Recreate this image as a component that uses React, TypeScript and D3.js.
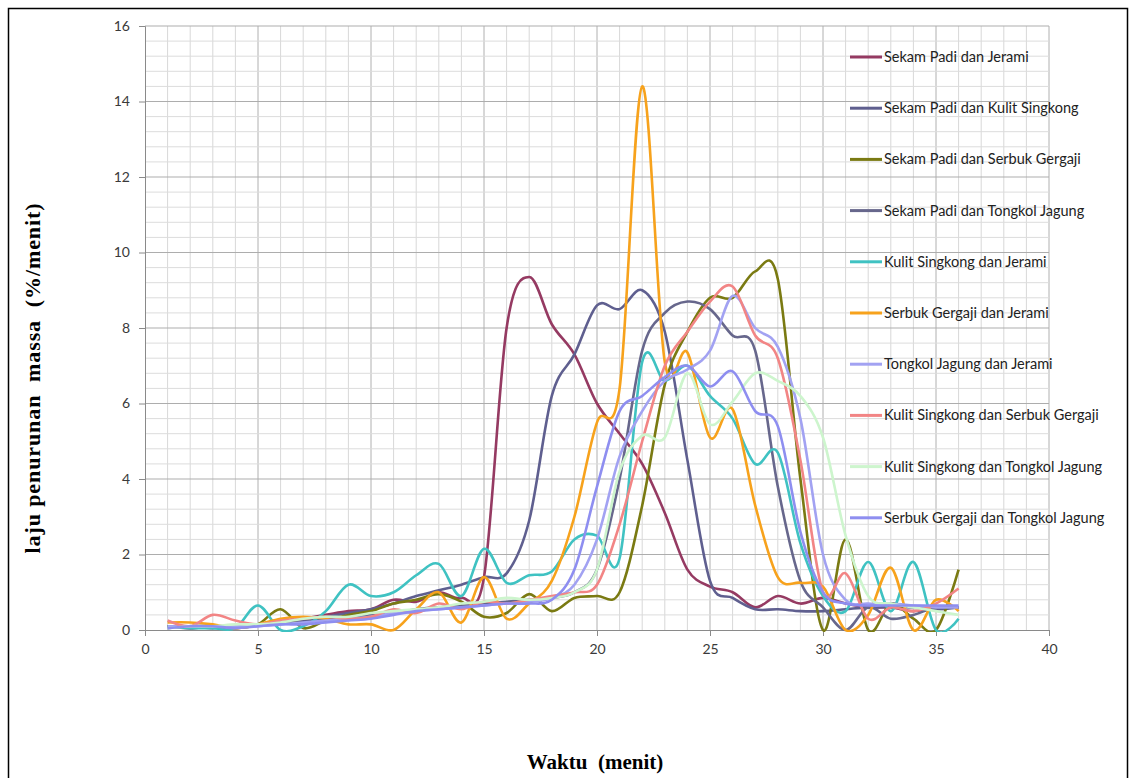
import React, { useEffect, useRef } from "react";
import * as d3 from "d3";

// waktu (menit)
const minutes = [1, 2, 3, 4, 5, 6, 7, 8, 9, 10, 11, 12, 13, 14, 15, 16, 17, 18, 19, 20, 21, 22, 23, 24, 25, 26, 27, 28, 29, 30, 31, 32, 33, 34, 35, 36];

const seriesNames = [
  "Sekam Padi dan Jerami",
  "Sekam Padi dan Kulit Singkong",
  "Sekam Padi dan Serbuk Gergaji",
  "Sekam Padi dan Tongkol Jagung",
  "Kulit Singkong dan Jerami",
  "Serbuk Gergaji dan Jerami",
  "Tongkol Jagung dan Jerami",
  "Kulit Singkong dan Serbuk Gergaji",
  "Kulit Singkong dan Tongkol Jagung",
  "Serbuk Gergaji dan Tongkol Jagung",
];

const seriesColors = ["#953a62", "#5f5f8f", "#7a7a12", "#67678c", "#3fc2c2", "#f7a21c", "#a2a2f2", "#f28585", "#cdf5cd", "#8e8ef0"];

const sekamJerami = [0.1, 0.05, 0.1, 0.1, 0.15, 0.2, 0.3, 0.4, 0.5, 0.55, 0.8, 0.75, 1.0, 0.85, 1.4, 8.0, 9.35, 8.1, 7.3, 6.0, 5.2, 4.4, 3.1, 1.6, 1.15, 1.0, 0.6, 0.9, 0.7, 0.85, 0.7, 0.6, 0.6, 0.5, 0.6, 0.6];
const sekamKulit = [0.05, 0.1, 0.05, 0.1, 0.15, 0.2, 0.25, 0.35, 0.45, 0.55, 0.7, 0.9, 1.05, 1.2, 1.4, 1.5, 2.9, 6.2, 7.3, 8.6, 8.5, 9.0, 7.9, 4.5, 1.3, 0.85, 0.55, 0.55, 0.5, 0.5, 0.55, 0.6, 0.6, 0.6, 0.55, 0.6];
const sekamSerbuk = [0.1, 0.1, 0.1, 0.05, 0.15, 0.55, 0.05, 0.25, 0.4, 0.5, 0.7, 0.8, 0.95, 0.75, 0.35, 0.45, 0.95, 0.5, 0.85, 0.9, 1.0, 3.3, 6.5, 7.9, 8.8, 8.8, 9.5, 9.3, 4.0, 0.0, 2.4, 0.0, 0.7, 0.3, 0.0, 1.6];
const sekamTongkol = [0.1, 0.05, 0.1, 0.05, 0.15, 0.2, 0.2, 0.3, 0.3, 0.4, 0.45, 0.55, 0.6, 0.65, 0.7, 0.75, 0.8, 0.85, 1.0, 1.6, 4.0, 7.4, 8.4, 8.7, 8.5, 7.8, 7.4, 3.8, 1.3, 0.6, 0.0, 0.6, 0.3, 0.4, 0.6, 0.6];
const kulitJerami = [0.1, 0.05, 0.05, 0.05, 0.65, 0.0, 0.1, 0.5, 1.2, 0.9, 1.0, 1.45, 1.75, 0.9, 2.15, 1.25, 1.45, 1.55, 2.4, 2.5, 1.9, 7.1, 6.6, 7.0, 6.2, 5.6, 4.4, 4.7, 2.3, 0.9, 0.5, 1.8, 0.5, 1.8, 0.0, 0.3];
const serbukJerami = [0.2, 0.2, 0.15, 0.05, 0.15, 0.3, 0.35, 0.3, 0.15, 0.15, 0.0, 0.55, 1.0, 0.2, 1.4, 0.3, 0.7, 1.3, 3.0, 5.5, 6.4, 14.4, 7.1, 7.35, 5.1, 5.85, 3.3, 1.4, 1.25, 1.15, 0.0, 0.4, 1.65, 0.0, 0.8, 0.5];
const tongkolJerami = [0.1, 0.1, 0.1, 0.1, 0.1, 0.15, 0.2, 0.25, 0.3, 0.35, 0.45, 0.5, 0.55, 0.6, 0.65, 0.7, 0.75, 0.85, 1.2, 2.4, 4.6, 5.8, 6.6, 6.9, 7.4, 8.85, 8.0, 7.5, 5.6, 2.0, 0.8, 0.7, 0.7, 0.65, 0.6, 0.6];
const kulitSerbuk = [0.25, 0.1, 0.4, 0.25, 0.15, 0.25, 0.3, 0.35, 0.3, 0.35, 0.55, 0.45, 0.7, 0.55, 0.75, 0.7, 0.8, 0.9, 1.0, 1.2, 2.8, 5.0, 7.0, 7.9, 8.7, 9.1, 7.8, 7.2, 4.5, 1.0, 1.5, 0.3, 0.6, 0.5, 0.7, 1.1];
const kulitTongkol = [0.05, 0.1, 0.1, 0.15, 0.15, 0.2, 0.3, 0.35, 0.35, 0.45, 0.5, 0.55, 0.6, 0.7, 0.75, 0.85, 0.8, 0.85, 1.0, 1.6, 4.2, 5.15, 5.1, 6.8, 5.45, 6.05, 6.8, 6.6, 6.2, 5.1, 2.5, 0.9, 0.7, 0.6, 0.5, 0.4];
const serbukTongkol = [0.05, 0.1, 0.1, 0.05, 0.1, 0.15, 0.15, 0.2, 0.25, 0.3, 0.4, 0.5, 0.55, 0.6, 0.65, 0.7, 0.7, 0.8, 1.6, 3.8, 5.8, 6.2, 6.7, 7.0, 6.45, 6.85, 5.8, 5.4, 2.6, 1.0, 0.7, 0.65, 0.65, 0.65, 0.65, 0.65];

const seriesValues = [sekamJerami, sekamKulit, sekamSerbuk, sekamTongkol, kulitJerami, serbukJerami, tongkolJerami, kulitSerbuk, kulitTongkol, serbukTongkol];

const xTicks = [0, 5, 10, 15, 20, 25, 30, 35, 40];
const yTicks = [0, 2, 4, 6, 8, 10, 12, 14, 16];

const W = 1129, H = 778;
const left = 145, right = 1049, top = 26, bottom = 630;
const tickFont = "Lato, 'Open Sans', sans-serif";

export default function App() {
  const ref = useRef<SVGSVGElement>(null);

  useEffect(() => {
    const svg = d3.select(ref.current);
    svg.selectAll("*").remove();

    const x = d3.scaleLinear().domain([0, 40]).range([left, right]);
    const y = d3.scaleLinear().domain([0, 16]).range([bottom, top]);

    svg.append("rect").attr("width", W).attr("height", H).attr("fill", "#fff");
    svg.append("rect")
      .attr("x", 8.5).attr("y", 8.5).attr("width", W - 10).attr("height", H + 20)
      .attr("fill", "none").attr("stroke", "#000").attr("stroke-width", 1.5);

    // minor grid
    const grid = svg.append("g");
    grid.selectAll(".vminor").data(d3.range(1, 41)).join("line")
      .attr("x1", d => x(d)).attr("x2", d => x(d))
      .attr("y1", top).attr("y2", bottom)
      .attr("stroke", d => d % 5 === 0 ? "#b0b0b0" : "#d8d8d8").attr("stroke-width", 1);
    grid.selectAll(".hminor").data(d3.range(1, 41).map(i => i * 0.4)).join("line")
      .attr("x1", left).attr("x2", right)
      .attr("y1", d => y(d)).attr("y2", d => y(d))
      .attr("stroke", d => Math.abs(d / 2 - Math.round(d / 2)) < 1e-6 ? "#adadad" : "#dcdcdc").attr("stroke-width", 1);

    // axes
    const gx = svg.append("g").attr("transform", `translate(0,${bottom})`)
      .call(d3.axisBottom(x).tickValues(xTicks).tickSize(6).tickPadding(8));
    const gy = svg.append("g").attr("transform", `translate(${left},0)`)
      .call(d3.axisLeft(y).tickValues(yTicks).tickSize(6).tickPadding(9));
    [gx, gy].forEach(g => {
      g.select(".domain").attr("stroke", "#8a8a8a");
      g.selectAll(".tick line").attr("stroke", "#8a8a8a");
      g.selectAll(".tick text").attr("fill", "#3a3a3a")
        .style("font-family", tickFont).style("font-size", "14px");
    });

    // lines
    svg.append("clipPath").attr("id", "plotclip").append("rect")
      .attr("x", left).attr("y", top).attr("width", right - left).attr("height", bottom - top + 2);

    const line = d3.line<number>()
      .x((_, i) => x(minutes[i]))
      .y(d => y(d))
      .curve(d3.curveCardinal.tension(0));

    svg.append("g").attr("clip-path", "url(#plotclip)")
      .selectAll("path").data(seriesValues).join("path")
      .attr("d", d => line(d))
      .attr("fill", "none")
      .attr("stroke", (_, i) => seriesColors[i])
      .attr("stroke-width", 2.6)
      .attr("stroke-linejoin", "round");

    // legend
    const lg = svg.append("g").selectAll("g").data(seriesNames).join("g")
      .attr("transform", (_, i) => `translate(850,${57 + i * 51.2})`);
    lg.append("line").attr("x1", 0).attr("x2", 32).attr("y1", 0).attr("y2", 0)
      .attr("stroke", (_, i) => seriesColors[i]).attr("stroke-width", 3);
    lg.append("text").attr("x", 34).attr("y", 5)
      .style("font-family", tickFont).style("font-size", "14.5px").attr("fill", "#222")
      .text(d => d);

    // titles
    svg.append("text")
      .attr("x", 595).attr("y", 769)
      .attr("text-anchor", "middle")
      .style("font-family", "'Liberation Serif', 'Times New Roman', serif")
      .style("font-weight", "bold").style("font-size", "21px")
      .style("white-space", "pre")
      .text("Waktu  (menit)");
    svg.append("text")
      .attr("transform", "translate(40,378) rotate(-90)")
      .attr("text-anchor", "middle")
      .style("font-family", "'Liberation Serif', 'Times New Roman', serif")
      .style("font-weight", "bold").style("font-size", "22px")
      .style("letter-spacing", "0.9px")
      .style("white-space", "pre")
      .text("laju penurunan  massa  (%/menit)");
  }, []);

  return (
    <svg ref={ref} width={W} height={H} style={{ position: "absolute", left: 0, top: 0, display: "block" }} />
  );
}
